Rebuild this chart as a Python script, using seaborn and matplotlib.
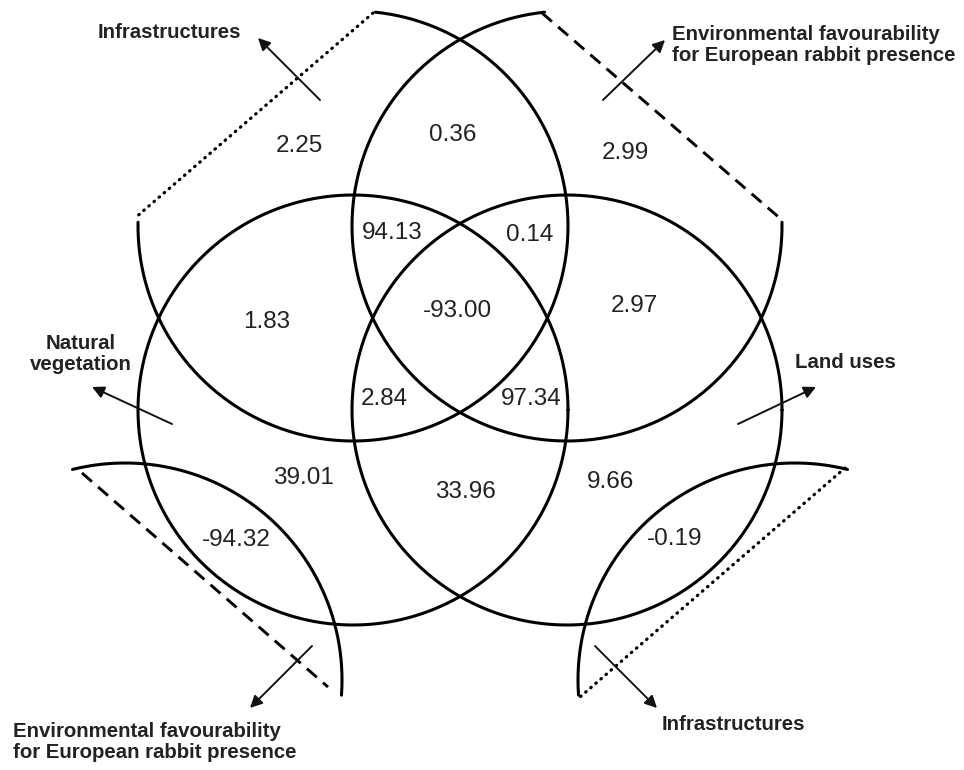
import numpy as np
import matplotlib
matplotlib.use("Agg")
import matplotlib.pyplot as plt
import seaborn as sns

# ---- data: values of the 15 fractions of the variation partitioning
fractions = [2.25, 0.36, 2.99, 94.13, 0.14, 1.83, -93.00, 2.97,
             2.84, 97.34, 39.01, 33.96, 9.66, -94.32, -0.19]
set_names = ["Infrastructures",
             "Environmental favourability\nfor European rabbit presence",
             "Natural\nvegetation",
             "Land uses"]

# ---- layout (pixel coords, y down)
frac_pos = [(299, 146), (453, 135), (625, 153), (392, 233), (530, 235),
            (267, 322), (457, 311), (634, 306), (384, 399), (531, 399),
            (303, 478), (465, 492), (610, 482), (236, 540), (675, 539)]

# circles: cx, cy, r, start angle, end angle (deg, counter-clockwise on screen)
arcs = [
    (353, 226, 215, -181, 84),   # infrastructures, top-left part
    (567, 226, 215, 96, 361),    # env. favourability, top-right part
    (353, 410, 215, 0, 360),     # natural vegetation
    (567, 410, 215, 0, 360),     # land uses
    (125, 680, 217, -4, 104),    # env. favourability, bottom-left piece
    (795, 680, 217, 76, 184),    # infrastructures, bottom-right piece
]
chords = [
    ((373, 13), (135, 218), "dotted"),
    ((542, 13), (782, 220), "dashed"),
    ((82, 473), (328, 687), "dashed"),
    ((845, 468), (580, 697), "dotted"),
]
# arrows: tail, head, label index, text pos, alignment
arrows = [
    ((320, 100), (258, 38), 0, (169, 33), "center"),
    ((603, 100), (665, 40), 1, (672, 45), "left"),
    ((172, 424), (92, 387), 2, (81, 354), "center"),
    ((738, 424), (816, 387), 3, (845, 363), "center"),
    ((312, 646), (250, 708), 1, (13, 742), "left"),
    ((595, 646), (657, 708), 0, (733, 725), "center"),
]

sns.set_theme(style="white")
plt.rcParams["font.family"] = ["Liberation Sans", "DejaVu Sans"]

fig = plt.figure(figsize=(9.64, 7.70), dpi=100)
ax = fig.add_axes([0, 0, 1, 1])
ax.set_xlim(0, 964)
ax.set_ylim(770, 0)
ax.axis("off")

for cx, cy, r, a0, a1 in arcs:
    t = np.radians(np.linspace(a0, a1, 400))
    sns.lineplot(x=cx + r * np.cos(t), y=cy - r * np.sin(t), sort=False,
                 estimator=None, color="black", lw=2.2, ax=ax)

for p0, p1, st in chords:
    if st == "dotted":
        ax.plot([p0[0], p1[0]], [p0[1], p1[1]], color="black", lw=2.3,
                linestyle=(0, (0.2, 1.9)), dash_capstyle="round")
    else:
        ax.plot([p0[0], p1[0]], [p0[1], p1[1]], color="black", lw=2.1,
                linestyle=(0, (4.5, 2.8)), dash_capstyle="butt")

for v, (x, y) in zip(fractions, frac_pos):
    ax.text(x, y, f"{v:.2f}", fontsize=17.5, ha="center", va="center",
            color="#222222")

for tail, head, k, tp, al in arrows:
    ax.annotate("", xy=head, xytext=tail,
                arrowprops=dict(arrowstyle="-|>", color="#111111", lw=1.4,
                                mutation_scale=18, shrinkA=0, shrinkB=0))
    ax.text(tp[0], tp[1], set_names[k], fontsize=14.7, fontweight="bold",
            ha=al, va="center", color="#222222", linespacing=1.12,
            multialignment=al)

fig.savefig("out.png", dpi=100)
